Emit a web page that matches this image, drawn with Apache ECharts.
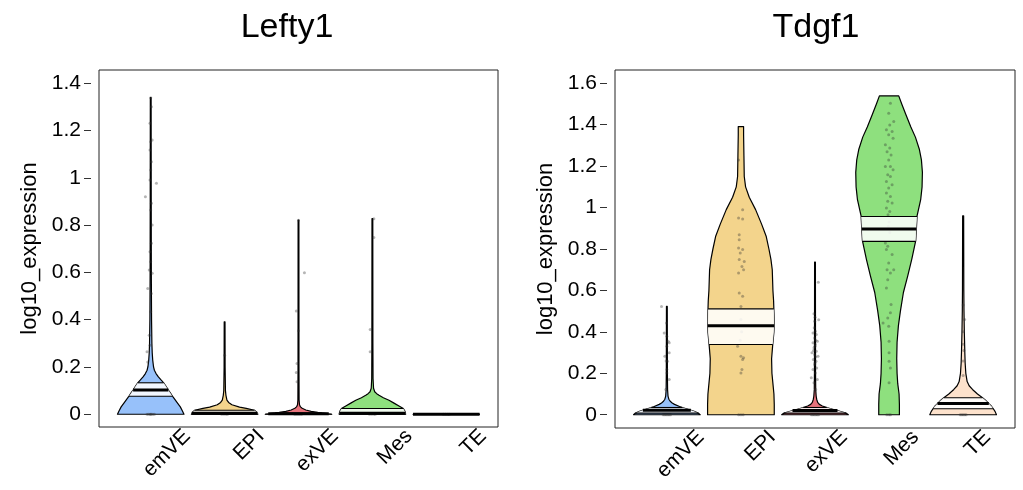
<!DOCTYPE html>
<html><head><meta charset="utf-8">
<script src="https://cdn.jsdelivr.net/npm/echarts@6/dist/echarts.min.js"></script>
<style>html,body{margin:0;padding:0;background:#fff}#c{width:1023px;height:490px}</style>
</head><body><div id="c"></div>
<script>
// ---------- data ----------
const categories = ['emVE', 'EPI', 'exVE', 'Mes', 'TE'];
const titles = ['Lefty1', 'Tdgf1'];
const leftyTicks = [0, 0.2, 0.4, 0.6, 0.8, 1, 1.2, 1.4];
const tdgfTicks = [0, 0.2, 0.4, 0.6, 0.8, 1, 1.2, 1.4, 1.6];

// density outlines: [log10_expression, relative half width]
const leftyEmVEDensity = [[0,1],[0.015,0.95],[0.031,0.89],[0.05,0.79],[0.073,0.67],[0.09,0.59],[0.102,0.53],[0.118,0.46],[0.133,0.39],[0.145,0.31],[0.158,0.23],[0.172,0.16],[0.186,0.11],[0.2,0.085],[0.229,0.06],[0.26,0.045],[0.3,0.035],[0.4,0.025],[0.6,0.018],[0.9,0.015],[1.339,0.012]];
const leftyEPIDensity = [[0,1],[0.008,0.97],[0.017,0.9],[0.025,0.65],[0.03,0.45],[0.04,0.22],[0.05,0.12],[0.06,0.07],[0.08,0.04],[0.1,0.025],[0.2,0.015],[0.391,0.012]];
const leftyExVEDensity = [[0,1],[0.004,0.82],[0.008,0.58],[0.012,0.38],[0.018,0.22],[0.025,0.11],[0.031,0.06],[0.04,0.03],[0.06,0.018],[0.2,0.014],[0.821,0.012]];
const leftyMesDensity = [[0,1],[0.012,0.98],[0.024,0.93],[0.035,0.8],[0.047,0.65],[0.059,0.5],[0.07,0.33],[0.08,0.2],[0.087,0.13],[0.095,0.07],[0.11,0.035],[0.15,0.02],[0.3,0.015],[0.827,0.012]];
const leftyTEDensity = [[0,1]];

const tdgfEmVEDensity = [[0,1],[0.008,0.94],[0.018,0.8],[0.03,0.56],[0.04,0.38],[0.05,0.23],[0.057,0.16],[0.065,0.1],[0.075,0.06],[0.09,0.035],[0.12,0.022],[0.2,0.016],[0.523,0.012]];
const tdgfEPIDensity = [[0,1],[0.05,1],[0.1,0.99],[0.15,0.96],[0.2,0.93],[0.27,0.92],[0.33,0.95],[0.4,0.99],[0.45,1],[0.5,0.99],[0.55,0.98],[0.6,0.96],[0.65,0.95],[0.7,0.94],[0.75,0.9],[0.8,0.84],[0.86,0.76],[0.92,0.62],[0.99,0.44],[1.05,0.25],[1.1,0.14],[1.15,0.1],[1.25,0.09],[1.35,0.08],[1.391,0.08]];
const tdgfExVEDensity = [[0,1],[0.008,0.93],[0.018,0.72],[0.03,0.45],[0.042,0.22],[0.05,0.13],[0.06,0.08],[0.075,0.05],[0.09,0.035],[0.12,0.022],[0.2,0.016],[0.737,0.012]];
const tdgfMesDensity = [[0,0.31],[0.05,0.31],[0.1,0.3],[0.15,0.26],[0.2,0.24],[0.27,0.23],[0.35,0.24],[0.43,0.28],[0.5,0.34],[0.59,0.43],[0.67,0.56],[0.75,0.68],[0.84,0.8],[0.96,0.84],[1.04,0.95],[1.1,0.99],[1.17,1],[1.23,0.97],[1.28,0.91],[1.34,0.79],[1.39,0.65],[1.45,0.5],[1.5,0.38],[1.539,0.29]];
const tdgfTEDensity = [[0,1],[0.015,0.96],[0.03,0.9],[0.041,0.85],[0.054,0.77],[0.07,0.67],[0.082,0.58],[0.1,0.43],[0.122,0.28],[0.14,0.18],[0.16,0.12],[0.2,0.08],[0.25,0.06],[0.3,0.05],[0.4,0.035],[0.5,0.025],[0.6,0.02],[0.96,0.015]];

// quartiles [Q1, median, Q3]
const leftyQuartiles = [[0.076,0.102,0.133],[0,0.004,0.017],[0,0.002,0.006],[0,0.004,0.024],[0,0,0]];
const tdgfQuartiles = [[0.008,0.022,0.035],[0.339,0.430,0.511],[0.008,0.02,0.035],[0.837,0.896,0.957],[0.029,0.054,0.082]];

// cells: [group index, jitter, log10_expression]
const leftyCells = [
 [0,0,1.339],[0,0.01,1.301],[0,-0.01,1.231],[0,0.02,1.16],[0,0,1.153],[0,-0.01,1.118],[0,0.01,1.068],[0,0,1.033],[0,-0.01,0.991],[0,0.077,0.977],[0,-0.072,0.92],[0,0.01,0.892],[0,0,0.864],[0,0.02,0.8],[0,0.01,0.723],[0,-0.01,0.687],[0,0,0.645],[0,-0.02,0.61],[0,0.02,0.596],[0,-0.04,0.532],[0,0.01,0.511],[0,0,0.433],[0,-0.02,0.334],[0,-0.01,0.292],[0,-0.05,0.264],[0,-0.04,0.221],
 [0,-0.05,0],[0,-0.03,0],[0,-0.01,0],[0,0.01,0],[0,0.03,0],[0,0.05,0],[0,0,0],
 [1,0,0.25],[1,-0.04,0],[1,-0.01,0],[1,0.02,0],[1,0.04,0],
 [2,0.08,0.598],[2,-0.03,0.437],[2,0,0.353],[2,-0.02,0.215],[2,-0.03,0.176],[2,-0.02,0.137],[2,0,0.821],[2,-0.05,0],[2,-0.02,0],[2,0.01,0],[2,0.04,0],
 [3,0.02,0.827],[3,0.02,0.747],[3,-0.03,0.358],[3,-0.03,0.264],[3,-0.04,0],[3,-0.01,0],[3,0.02,0],[3,0.04,0],
 [4,-0.04,0],[4,-0.01,0],[4,0.02,0],[4,0.04,0]
];
const tdgfCells = [
 [0,-0.072,0.523],[0,-0.005,0.443],[0,-0.036,0.395],[0,0,0.379],[0,0.018,0.355],[0,0.032,0.347],[0,0,0.331],[0,0.032,0.299],[0,-0.027,0.282],[0,0.009,0.258],[0,-0.01,0.26],[0,0,0.218],[0,0,0.202],[0,0.032,0.17],[0,-0.014,0.122],
 [0,-0.05,0],[0,-0.03,0],[0,-0.01,0],[0,0.01,0],[0,0.03,0],[0,0.05,0],
 [1,-0.032,1.23],[1,0.023,0.99],[1,-0.032,0.95],[1,0.023,0.945],[1,-0.023,0.869],[1,-0.023,0.845],[1,-0.032,0.805],[1,0.023,0.797],[1,-0.009,0.781],[1,-0.023,0.749],[1,0.045,0.74],[1,0.014,0.716],[1,0.036,0.7],[1,-0.032,0.684],[1,-0.023,0.588],[1,0.023,0.572],[1,0,0.523],[1,0,0.46],[1,0.01,0.4],[1,-0.01,0.36],[1,-0.045,0.331],[1,0,0.282],[1,0.036,0.275],[1,0.023,0.267],[1,0.014,0.218],[1,0,0.202],
 [1,-0.03,0],[1,0,0],[1,0.03,0],
 [2,-0.014,0.488],[2,0.05,0.459],[2,-0.005,0.451],[2,-0.01,0.42],[2,0.005,0.403],[2,-0.027,0.395],[2,0.018,0.387],[2,-0.005,0.371],[2,0.01,0.36],[2,0.032,0.355],[2,-0.027,0.347],[2,0.005,0.339],[2,0,0.33],[2,-0.014,0.323],[2,-0.02,0.31],[2,0.018,0.307],[2,-0.041,0.299],[2,-0.005,0.291],[2,0.041,0.282],[2,0.01,0.28],[2,-0.023,0.267],[2,0.014,0.258],[2,0,0.25],[2,-0.005,0.242],[2,0.023,0.226],[2,-0.027,0.218],[2,0.005,0.202],[2,-0.05,0.178],[2,0.032,0.17],[2,-0.014,0.154],[2,0.009,0.122],[2,0.045,0.639],[2,0,0.47],
 [2,-0.05,0],[2,-0.03,0],[2,-0.01,0],[2,0.01,0],[2,0.03,0],[2,0.05,0],
 [3,0.018,1.504],[3,-0.005,1.455],[3,0.063,1.415],[3,0.009,1.399],[3,-0.036,1.375],[3,0.041,1.367],[3,-0.005,1.351],[3,0.054,1.335],[3,-0.05,1.303],[3,0.009,1.287],[3,-0.027,1.27],[3,0.027,1.254],[3,-0.005,1.23],[3,-0.05,1.198],[3,0.018,1.198],[3,0.054,1.182],[3,-0.018,1.158],[3,0.018,1.15],[3,-0.036,1.126],[3,0.041,1.11],[3,-0.005,1.094],[3,-0.036,1.07],[3,0.018,1.054],[3,-0.018,1.03],[3,0.041,1.022],[3,-0.036,0.998],[3,0.009,0.981],[3,-0.014,0.965],[3,0,0.93],[3,0.01,0.88],[3,-0.01,0.91],[3,-0.05,0.829],[3,-0.018,0.813],[3,-0.036,0.797],[3,0.041,0.773],[3,-0.005,0.733],[3,-0.027,0.7],[3,0.063,0.7],[3,0.018,0.684],[3,-0.018,0.652],[3,-0.036,0.612],[3,0.027,0.532],[3,0.018,0.492],[3,-0.018,0.467],[3,-0.081,0.443],[3,-0.005,0.427],[3,0,0.355],[3,0,0.299],[3,0,0.258],[3,0.018,0.226],[3,0,0.154],
 [3,-0.03,0],[3,0,0],[3,0.02,0],
 [4,0,0.53],[4,0.02,0.46],[4,0,0.4],[4,0,0.34],[4,0.01,0.31],[4,0,0.26],[4,0,0.19],
 [4,-0.04,0],[4,-0.02,0],[4,0,0],[4,0.02,0],[4,0.04,0]
];

// ---------- styling ----------
const fills = ['#97C1FA', '#F3D48C', '#E8737C', '#8EE07E', '#FDE2CC'];
const HALF = 0.45;
const FONT = 'Liberation Sans, Arial, Helvetica, sans-serif';

const leftyDensities = [leftyEmVEDensity, leftyEPIDensity, leftyExVEDensity, leftyMesDensity, leftyTEDensity];
const tdgfDensities = [tdgfEmVEDensity, tdgfEPIDensity, tdgfExVEDensity, tdgfMesDensity, tdgfTEDensity];

function hw(p, y) {
  if (y <= p[0][0]) return p[0][1];
  for (let i = 1; i < p.length; i++) {
    if (y <= p[i][0]) {
      const [y0, w0] = p[i-1], [y1, w1] = p[i];
      const t = y1 === y0 ? 0 : (y - y0) / (y1 - y0);
      return w0 + t * (w1 - w0);
    }
  }
  return p[p.length-1][1];
}

function bodyRenderer(dens) {
  return function (params, api) {
    const g = api.value(0) - 1;
    const p = dens[g];
    const cx = g + 1;
    const pts = [];
    for (const [y, w] of p) pts.push(api.coord([cx + w * HALF, y]));
    for (let i = p.length - 1; i >= 0; i--) pts.push(api.coord([cx - p[i][1] * HALF, p[i][0]]));
    return { type: 'polygon', shape: { points: pts },
      style: { fill: fills[g], stroke: '#000', lineWidth: 1.2, lineJoin: 'round' } };
  };
}

function boxRenderer(dens, quarts) {
  return function (params, api) {
    const g = api.value(0) - 1;
    const p = dens[g];
    const [q1, med, q3] = quarts[g];
    const cx = g + 1;
    const ys = [q1];
    for (const [y] of p) if (y > q1 && y < q3) ys.push(y);
    ys.push(q3);
    const pts = [];
    for (const y of ys) pts.push(api.coord([cx + hw(p, y) * HALF, y]));
    for (let i = ys.length - 1; i >= 0; i--) pts.push(api.coord([cx - hw(p, ys[i]) * HALF, ys[i]]));
    const line = (y, lw) => {
      const a = api.coord([cx - hw(p, y) * HALF, y]);
      const b = api.coord([cx + hw(p, y) * HALF, y]);
      return { type: 'line', shape: { x1: a[0], y1: a[1], x2: b[0], y2: b[1] },
        style: { stroke: '#000', lineWidth: lw } };
    };
    return { type: 'group', children: [
      { type: 'polygon', shape: { points: pts }, style: { fill: 'rgba(255,255,255,0.87)' } },
      line(q1, 1.1), line(q3, 1.1), line(med, 3)
    ] };
  };
}

const groupData = categories.map((c, i) => [i + 1, 0]);
const cellPoints = cells => cells.map(([g, dx, y]) => [g + 1 + dx, y]);

const grids = [
  { left: 99, top: 70, width: 399, height: 357 },
  { left: 615, top: 70, width: 400, height: 358 }
];
const labelShift = 36;

function mainX(gi) {
  return { gridIndex: gi, type: 'value', min: 0.3, max: 5.7,
    axisLine: { show: false }, axisTick: { show: false }, axisLabel: { show: false }, splitLine: { show: false } };
}
function labelX(gi) {
  return { gridIndex: gi, type: 'category', data: categories, boundaryGap: true,
    axisLine: { show: false }, axisTick: { show: false }, splitLine: { show: false },
    axisLabel: { interval: 0, rotate: 45, margin: 6, fontSize: 21, color: '#000', fontFamily: FONT } };
}
function mainY(gi, min, max, ticks, gap) {
  return { gridIndex: gi, type: 'value', min: min, max: max, offset: 8,
    name: 'log10_expression', nameLocation: 'middle', nameGap: gap, nameRotate: 90,
    nameTextStyle: { fontSize: 22, color: '#000', fontFamily: FONT },
    axisLine: { show: false }, splitLine: { show: false },
    axisTick: { show: true, length: 7, customValues: ticks, lineStyle: { color: '#333', width: 1 } },
    axisLabel: { customValues: ticks, fontSize: 21, color: '#000', margin: 10, fontFamily: FONT } };
}

const option = {
  animation: false,
  backgroundColor: '#fff',
  title: [
    { text: titles[0], left: 287, top: 11, textAlign: 'center', padding: 0,
      textStyle: { fontSize: 34, fontWeight: 'normal', color: '#000', fontFamily: FONT } },
    { text: titles[1], left: 816, top: 11, textAlign: 'center', padding: 0,
      textStyle: { fontSize: 34, fontWeight: 'normal', color: '#000', fontFamily: FONT } }
  ],
  grid: [
    Object.assign({ show: true, borderColor: '#222', borderWidth: 1, backgroundColor: 'transparent' }, grids[0]),
    Object.assign({ show: true, borderColor: '#222', borderWidth: 1, backgroundColor: 'transparent' }, grids[1]),
    { left: grids[0].left + 15 + labelShift, top: 70, width: 370, height: 357 },
    { left: grids[1].left + 14 + labelShift, top: 70, width: 370, height: 358 }
  ],
  xAxis: [mainX(0), mainX(1), labelX(2), labelX(3)],
  yAxis: [
    mainY(0, -0.054, 1.456, leftyTicks, 50),
    mainY(1, -0.064, 1.664, tdgfTicks, 50),
    { gridIndex: 2, type: 'value', show: false },
    { gridIndex: 3, type: 'value', show: false }
  ],
  series: [
    { type: 'custom', xAxisIndex: 0, yAxisIndex: 0, z: 2, silent: true, renderItem: bodyRenderer(leftyDensities), data: groupData },
    { type: 'scatter', xAxisIndex: 0, yAxisIndex: 0, z: 3, silent: true, symbolSize: 3,
      itemStyle: { color: 'rgba(50,50,50,0.45)' }, data: cellPoints(leftyCells) },
    { type: 'custom', xAxisIndex: 0, yAxisIndex: 0, z: 4, silent: true, renderItem: boxRenderer(leftyDensities, leftyQuartiles), data: groupData },
    { type: 'custom', xAxisIndex: 1, yAxisIndex: 1, z: 2, silent: true, renderItem: bodyRenderer(tdgfDensities), data: groupData },
    { type: 'scatter', xAxisIndex: 1, yAxisIndex: 1, z: 3, silent: true, symbolSize: 3,
      itemStyle: { color: 'rgba(50,50,50,0.45)' }, data: cellPoints(tdgfCells) },
    { type: 'custom', xAxisIndex: 1, yAxisIndex: 1, z: 4, silent: true, renderItem: boxRenderer(tdgfDensities, tdgfQuartiles), data: groupData }
  ]
};

const chart = echarts.init(document.getElementById('c'), null, { renderer: 'canvas' });
chart.setOption(option);
</script>
</body></html>
